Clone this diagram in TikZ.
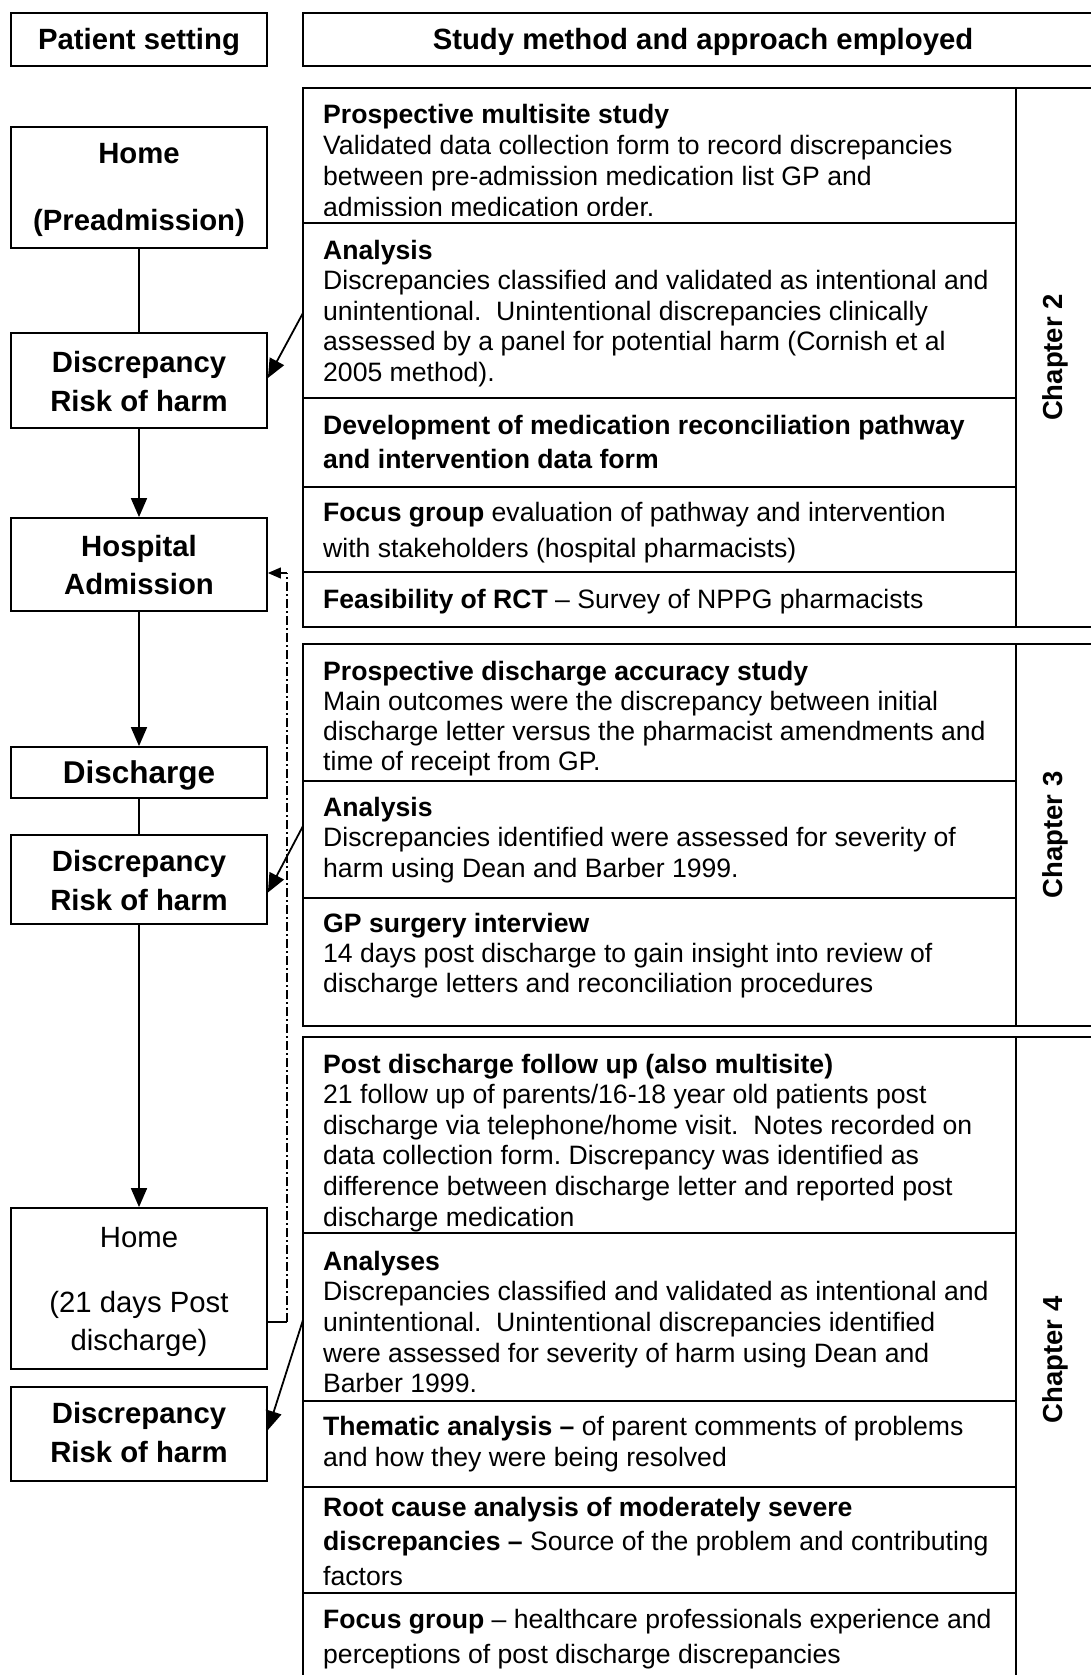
\documentclass[tikz,border=0pt]{standalone}
\usepackage{fontspec}
\setmainfont{Liberation Sans}
\usetikzlibrary{arrows.meta,calc}

% text of the study-method cells; optional argument = line distance
\newcommand\celltxt[2][30.5]{\parbox[t]{760pt}{\raggedright\frenchspacing\fontsize{26.6}{#1}\selectfont #2}}

\begin{document}
\begin{tikzpicture}[x=1pt,y=-1pt,
  frame/.style={line width=1.8pt},
  sbox/.style={draw, line width=1.8pt, rectangle, inner sep=0pt, minimum width=256pt},
  conn/.style={line width=1.8pt},
  arr/.style={line width=1.8pt, -{Triangle[length=19pt,width=16pt]}},
  ddline/.style={line width=1.2pt, dash pattern=on 9pt off 3pt on 2pt off 3pt},
  thin/.style={line width=1.2pt},
  lbl/.style={anchor=base, inner sep=0pt, font=\fontsize{29.3}{33}\selectfont\bfseries},
  lblr/.style={anchor=base, inner sep=0pt, font=\fontsize{29.3}{33}\selectfont},
  cell/.style={anchor=base west, inner sep=0pt},
  chap/.style={rotate=90, inner sep=0pt, font=\fontsize{27.5}{30}\selectfont\bfseries},
]
\useasboundingbox (0,0) rectangle (1091,1675);
\fill[white] (0,0) rectangle (1091,1675);
\clip (0,0) rectangle (1091,1675);

% ---------- headers ----------
\node[sbox, minimum height=53pt] (hpat) at (139,39.5) {};
\node[lbl] (hpatt) at (139,50) {Patient setting};
\draw[frame] (1110,13) -- (303,13) -- (303,66) -- (1110,66);
\node[lbl] (hstudy) at (703,50) {Study method and approach employed};

% ---------- patient setting column ----------
\node[sbox, minimum height=121pt] (home1) at (139,187.5) {};
\node[lbl] (home1a) at (139,164) {Home};
\node[lbl] (home1b) at (139,230) {(Preadmission)};

\node[sbox, minimum height=95pt] (d1) at (139,380.5) {};
\node[lbl] (d1a) at (139,372) {Discrepancy};
\node[lbl] (d1b) at (139,411) {Risk of harm};

\node[sbox, minimum height=93pt] (hosp) at (139,564.5) {};
\node[lbl] (hospa) at (139,556) {Hospital};
\node[lbl] (hospb) at (139,594) {Admission};

\node[sbox, minimum height=51pt] (disch) at (139,772.5) {};
\node[lbl, font=\fontsize{31.5}{36}\selectfont\bfseries] (discha) at (139,783) {Discharge};

\node[sbox, minimum height=89pt] (d2) at (139,879.5) {};
\node[lbl] (d2a) at (139,871) {Discrepancy};
\node[lbl] (d2b) at (139,910) {Risk of harm};

\node[sbox, minimum height=161pt] (home2) at (139,1288.5) {};
\node[lblr] (home2a) at (139,1247) {Home};
\node[lblr] (home2b) at (139,1312) {(21 days Post};
\node[lblr] (home2c) at (139,1350) {discharge)};

\node[sbox, minimum height=94pt] (d3) at (139,1434) {};
\node[lbl] (d3a) at (139,1423) {Discrepancy};
\node[lbl] (d3b) at (139,1462) {Risk of harm};

% vertical flow
\draw[conn] (home1.south) -- (d1.north);
\draw[arr] (d1.south) -- (hosp.north);
\draw[arr] (hosp.south) -- (disch.north);
\draw[conn] (disch.south) -- (d2.north);
\draw[arr] (d2.south) -- (home2.north);

% return path from home back to admission
\coordinate (ddtop) at (287,573);
\coordinate (ddbot) at (287,1322);
\draw[thin] (home2.east |- ddbot) -- (ddbot);
\draw[ddline] (ddbot) -- (ddtop);
\draw[thin, -{Triangle[length=13pt,width=11pt]}] (ddtop) -- (hosp.east |- ddtop);

% ---------- chapter 2 ----------
\draw[frame] (1110,88) -- (303,88) -- (303,627) -- (1110,627);
\draw[frame] (1016,88) -- (1016,627);
\foreach \yy in {223,398,487,572} \draw[frame] (303,\yy) -- (1016,\yy);

\begin{scope}
\clip (303,88) rectangle (1016,215);
\node[cell] (c2a) at (323,124) {\celltxt[30.7]{\textbf{Prospective multisite study}\\
Validated data collection form to record discrepancies\\
between pre-admission medication list GP and\\
admission medication order.}};
\end{scope}
\node[cell] (c2b) at (323,259) {\celltxt{\textbf{Analysis}\\
Discrepancies classified and validated as intentional and\\
unintentional.\ \ Unintentional discrepancies clinically\\
assessed by a panel for potential harm (Cornish et al\\
2005 method).}};
\node[cell] (c2c) at (323,434.5) {\celltxt[34]{\textbf{Development of medication reconciliation pathway}\\
\textbf{and intervention data form}}};
\node[cell] (c2d) at (323,521.5) {\celltxt[35.5]{\textbf{Focus group} evaluation of pathway and intervention\\
with stakeholders (hospital pharmacists)}};
\node[cell] (c2e) at (323,608.7) {\celltxt{\textbf{Feasibility of RCT} \textendash{} Survey of NPPG pharmacists}};
\node[chap] (ch2) at (1055,357.5) {Chapter 2};

% ---------- chapter 3 ----------
\draw[frame] (1110,644) -- (303,644) -- (303,1026) -- (1110,1026);
\draw[frame] (1016,644) -- (1016,1026);
\foreach \yy in {781,898} \draw[frame] (303,\yy) -- (1016,\yy);

\node[cell] (c3a) at (323,680) {\celltxt[30]{\textbf{Prospective discharge accuracy study}\\
Main outcomes were the discrepancy between initial\\
discharge letter versus the pharmacist amendments and\\
time of receipt from GP.}};
\node[cell] (c3b) at (323,816) {\celltxt{\textbf{Analysis}\\
Discrepancies identified were assessed for severity of\\
harm using Dean and Barber 1999.}};
\node[cell] (c3c) at (323,932) {\celltxt[30]{\textbf{GP surgery interview}\\
14 days post discharge to gain insight into review of\\
discharge letters and reconciliation procedures}};
\node[chap] (ch3) at (1055,835) {Chapter 3};

% ---------- chapter 4 ----------
\draw[frame] (1110,1037) -- (303,1037) -- (303,1700);
\draw[frame] (1016,1037) -- (1016,1700);
\foreach \yy in {1233,1401,1487,1593} \draw[frame] (303,\yy) -- (1016,\yy);

\node[cell] (c4a) at (323,1073) {\celltxt[30.6]{\textbf{Post discharge follow up (also multisite)}\\
21 follow up of parents/16-18 year old patients post\\
discharge via telephone/home visit.\ \ Notes recorded on\\
data collection form. Discrepancy was identified as\\
difference between discharge letter and reported post\\
discharge medication}};
\node[cell] (c4b) at (323,1270) {\celltxt[30.7]{\textbf{Analyses}\\
Discrepancies classified and validated as intentional and\\
unintentional.\ \ Unintentional discrepancies identified\\
were assessed for severity of harm using Dean and\\
Barber 1999.}};
\node[cell] (c4c) at (323,1435.6) {\celltxt{\textbf{Thematic analysis \textendash} of parent comments of problems\\
and how they were being resolved}};
\node[cell] (c4d) at (323,1516) {\celltxt[34.7]{\textbf{Root cause analysis of moderately severe}\\
\textbf{discrepancies \textendash} Source of the problem and contributing\\
factors}};
\node[cell] (c4e) at (323,1628.5) {\celltxt[35.3]{\textbf{Focus group} \textendash{} healthcare professionals experience and\\
perceptions of post discharge discrepancies}};
\node[chap] (ch4) at (1055,1360) {Chapter 4};

% ---------- links from analyses to discrepancy boxes ----------
\coordinate (s1) at (303,313);
\coordinate (s2) at (303,826);
\coordinate (s3) at (303,1320);
\draw[arr] (s1) -- ($(d1.east)+(0,-2.5)$);
\draw[arr] (s2) -- ($(d2.east)+(0,13)$);
\draw[arr] (s3) -- ($(d3.east)+(0,-4)$);
\end{tikzpicture}
\end{document}
